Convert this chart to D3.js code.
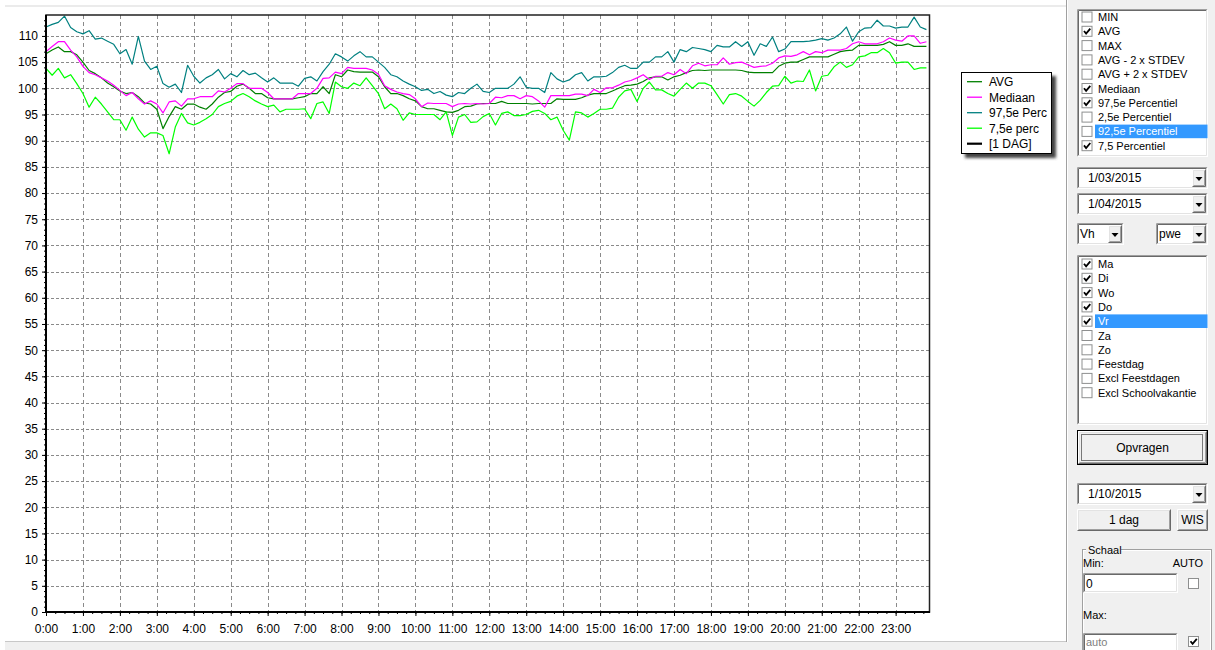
<!DOCTYPE html>
<html>
<head>
<meta charset="utf-8">
<script src="https://cdn.jsdelivr.net/npm/d3@7"></script>
<style>
body { margin:0; background:#fff; overflow:hidden; }
svg { display:block; font-family:"Liberation Sans", Arial, sans-serif; }
</style>
</head>
<body>
<script>
// ---- data: one value every 10 minutes, 0:00 .. 23:50 ----
var avg = [
 106.6,107.3,107.9,107.0,107.0,106.4, 105.0,103.4,102.8,102.0,101.0,100.3,
 99.5,99.0,99.2,98.4,97.2,97.0, 96.0,92.3,94.6,96.5,96.0,97.0,
 97.0,96.4,96.0,97.0,98.3,99.2, 99.4,100.4,100.8,100.0,99.0,99.0,
 98.2,98.0,98.0,98.0,98.0,98.2, 98.4,99.0,99.0,100.3,99.0,102.6,
 102.2,103.5,103.2,103.1,103.1,103.1, 102.2,100.3,99.0,99.0,98.6,98.0,
 97.6,96.5,96.1,96.1,95.8,95.5, 95.4,95.8,96.5,96.6,97.0,97.1,
 97.1,97.1,97.5,97.1,97.1,97.1, 97.1,97.0,97.1,97.1,97.1,98.0,
 97.9,97.9,97.9,98.2,98.7,99.0, 99.0,99.0,99.5,100.0,100.5,100.6,
 100.8,101.3,102.0,102.2,102.2,101.6, 102.2,102.5,103.0,103.4,103.5,103.4,
 103.5,103.5,103.5,103.5,103.5,103.4, 103.1,103.0,103.0,103.0,103.0,104.2,
 104.8,105.0,105.0,105.5,106.0,106.0, 106.0,106.0,106.5,107.0,107.2,107.3,
 108.2,108.2,108.2,108.2,108.4,108.9, 108.2,108.2,108.5,108.0,108.0,108.0
];
var mediaan = [
 107.0,108.0,108.9,108.9,107.3,106.0, 104.2,103.0,102.6,102.0,101.4,100.6,
 99.6,98.6,99.2,98.0,97.0,97.6, 97.0,95.3,97.4,97.6,96.6,98.0,
 98.0,98.4,98.4,98.4,99.5,99.3, 100.0,100.9,100.9,100.0,100.0,100.0,
 99.2,98.0,98.0,98.0,98.0,99.0, 99.0,99.0,100.0,101.9,102.0,103.1,
 102.8,104.0,103.8,103.8,103.8,103.5, 102.7,100.5,99.8,99.3,99.0,98.8,
 98.0,96.5,97.2,97.1,97.1,97.1, 96.5,97.0,97.1,97.0,97.1,97.0,
 97.1,98.3,98.2,98.6,98.6,98.0, 98.6,98.4,97.6,96.4,98.6,98.6,
 98.6,98.6,98.9,98.9,98.6,99.8, 99.2,100.1,100.1,100.6,101.2,101.5,
 102.0,102.6,101.7,102.3,102.3,103.0, 102.6,103.6,102.8,104.3,104.8,104.3,
 104.5,104.5,105.8,104.6,104.9,105.0, 104.5,104.0,104.2,104.3,104.8,105.8,
 106.2,106.1,106.4,107.0,106.4,107.0, 106.8,107.3,107.3,107.3,107.6,108.5,
 108.9,108.5,108.5,108.5,108.9,109.6, 109.2,109.0,110.0,110.0,108.6,108.9
];
var perc975 = [
 111.7,112.2,112.6,113.8,111.6,110.8, 110.4,111.0,109.4,109.6,109.0,108.4,
 106.6,107.4,104.6,109.9,105.2,103.6, 104.2,100.9,100.2,100.8,99.2,104.4,
 102.3,101.0,102.0,102.6,103.6,101.8, 102.8,102.2,103.4,102.6,102.9,102.0,
 101.2,102.0,101.0,101.0,101.0,100.4, 101.9,102.2,101.4,103.2,104.6,106.6,
 106.0,105.2,106.2,107.0,106.0,106.0, 105.0,104.0,102.6,102.2,101.4,100.8,
 100.3,99.6,99.8,99.0,99.4,98.7, 98.4,99.2,99.0,100.0,100.8,99.4,
 99.2,100.0,100.0,100.0,100.8,102.2, 100.2,100.0,100.0,99.2,103.0,101.8,
 101.2,101.6,102.6,103.0,101.4,102.2, 102.2,102.3,103.0,104.0,104.4,103.8,
 103.8,105.0,105.0,106.0,106.0,107.0, 105.0,107.4,107.0,107.8,107.6,107.4,
 107.0,108.2,107.9,107.9,108.9,108.0, 108.9,106.3,108.5,108.0,109.8,107.0,
 107.5,108.9,108.9,108.9,109.0,109.2, 109.5,109.2,109.6,110.4,111.7,109.0,
 110.8,111.5,111.6,113.0,111.9,111.9, 111.5,111.7,111.7,113.6,111.7,111.2
];
var perc75 = [
 103.8,102.5,103.8,102.0,102.6,100.9, 99.0,96.4,98.3,97.0,95.5,94.0,
 94.0,92.0,94.5,92.2,90.7,91.5, 91.5,91.0,87.5,92.6,95.2,93.4,
 93.0,93.5,94.2,95.0,96.5,97.1, 97.5,98.5,99.0,98.4,97.6,97.0,
 96.5,96.8,95.5,96.0,96.0,96.0, 96.1,94.2,97.1,97.4,95.2,101.2,
 100.3,100.0,101.0,100.5,102.0,100.5, 99.0,96.1,97.0,96.1,93.9,95.3,
 95.0,95.0,95.0,95.0,94.0,95.5, 91.0,94.5,95.0,93.5,93.6,94.6,
 95.2,93.0,95.2,95.5,94.8,94.8, 95.0,95.6,95.8,95.2,94.0,94.5,
 92.0,90.1,95.5,95.3,94.5,95.2, 96.0,96.0,96.2,98.3,99.5,99.8,
 97.5,100.0,101.2,99.7,99.7,99.0, 98.5,99.8,101.0,100.0,101.0,101.0,
 100.5,98.8,97.0,98.8,99.0,98.5, 97.5,96.6,97.7,99.2,100.4,100.5,
 102.3,101.0,101.4,101.3,103.5,99.5, 102.3,102.5,104.1,105.0,104.0,104.5,
 106.0,106.2,106.8,106.8,107.6,106.8, 104.8,105.0,105.0,103.6,103.9,103.9
];
var minutes = d3.range(0, 1440, 10);

var hourLabels = ["0:00","1:00","2:00","3:00","4:00","5:00","6:00","7:00","8:00","9:00","10:00","11:00",
  "12:00","13:00","14:00","15:00","16:00","17:00","18:00","19:00","20:00","21:00","22:00","23:00"];
var yTicks = [0,5,10,15,20,25,30,35,40,45,50,55,60,65,70,75,80,85,90,95,100,105,110];

var legendNames = ["AVG", "Mediaan", "97,5e Perc", "7,5e perc", "[1 DAG]"];
var legendColors = ["#008000", "#ff00ff", "#008080", "#00ff00", "#000000"];

var statItems = ["MIN","AVG","MAX","AVG - 2 x STDEV","AVG + 2 x STDEV","Mediaan","97,5e Percentiel","2,5e Percentiel","92,5e Percentiel","7,5 Percentiel"];
var statChecked = [false,true,false,false,false,true,true,false,false,true];
var dayItems = ["Ma","Di","Wo","Do","Vr","Za","Zo","Feestdag","Excl Feestdagen","Excl Schoolvakantie"];
var dayChecked = [true,true,true,true,true,false,false,false,false,false];

var ancho = 1215, alto = 650;

var svg = d3.select("body").append("svg")
  .attr("width", ancho).attr("height", alto);

// shadow filter for legend
var defs = svg.append("defs");
defs.append("filter").attr("id","blur").attr("x","-20%").attr("y","-20%").attr("width","140%").attr("height","140%")
  .append("feGaussianBlur").attr("stdDeviation", 1.5);

// ---- chart frame / background ----
svg.append("rect").attr("x",0).attr("y",0).attr("width",ancho).attr("height",alto).attr("fill","#fff");
svg.append("rect").attr("x",5).attr("y",5).attr("width",1061).attr("height",2).attr("fill","#ebebeb");
svg.append("rect").attr("x",5).attr("y",641).attr("width",1062).attr("height",9).attr("fill","#f0f0f0");
svg.append("line").attr("x1",5).attr("x2",1067).attr("y1",641.5).attr("y2",641.5).attr("stroke","#c8c8c8");

// escalas
var x = d3.scaleLinear().domain([0, 1435]).range([46, 929.5]);
var y = d3.scaleLinear().domain([0, 114]).range([612, 15]);

var plot = svg.append("g");

// grid
plot.selectAll("line.hg").data(yTicks.filter(function(d){ return d > 0; }))
  .enter().append("line").attr("class","hg")
  .attr("x1", x(0)).attr("x2", x(1435))
  .attr("y1", function(d){ return Math.round(y(d)) + 0.5; })
  .attr("y2", function(d){ return Math.round(y(d)) + 0.5; })
  .attr("stroke","#8a8a8a").attr("stroke-dasharray","3,2");
plot.selectAll("line.vg").data(d3.range(1, 24))
  .enter().append("line").attr("class","vg")
  .attr("x1", function(d){ return Math.round(x(d*60)) + 0.5; })
  .attr("x2", function(d){ return Math.round(x(d*60)) + 0.5; })
  .attr("y1", y(114)).attr("y2", y(0))
  .attr("stroke","#8a8a8a").attr("stroke-dasharray","4,3");

// axes
var yAxis = d3.axisLeft(y).tickValues(yTicks).tickSize(4).tickPadding(4);
var yMinor = d3.axisLeft(y).tickValues(d3.range(0, 114, 1)).tickSize(2).tickFormat("");
var xAxis = d3.axisBottom(x).tickValues(d3.range(0, 24).map(function(h){ return h*60; }))
  .tickSize(4).tickPadding(8).tickFormat(function(d, i){ return hourLabels[i]; });
var xMinor = d3.axisBottom(x).tickValues(d3.range(0, 1440, 15)).tickSize(2).tickFormat("");

function styleAxis(g) {
  g.select(".domain").remove();
  g.selectAll("line").attr("stroke","#000");
  g.selectAll("text").attr("fill","#000").style("font-size","12px")
   .style("font-family","'Liberation Sans', Arial, sans-serif");
}
plot.append("g").attr("transform","translate(46,0)").call(yMinor).call(styleAxis);
plot.append("g").attr("transform","translate(46,0)").call(yAxis).call(styleAxis);
plot.append("g").attr("transform","translate(0,612)").call(xMinor).call(styleAxis);
plot.append("g").attr("transform","translate(0,612)").call(xAxis).call(styleAxis);

// series
var series = [
  {values: avg, color: legendColors[0]},
  {values: mediaan, color: legendColors[1]},
  {values: perc975, color: legendColors[2]},
  {values: perc75, color: legendColors[3]}
];
var linea = d3.line()
  .x(function(d, i){ return x(minutes[i]); })
  .y(function(d){ return y(d); });
plot.selectAll("path.serie").data(series).enter().append("path")
  .attr("class","serie")
  .attr("d", function(s){ return linea(s.values); })
  .attr("fill","none")
  .attr("stroke", function(s){ return s.color; })
  .attr("stroke-width", 1.2)
  .attr("stroke-linejoin","round");

// frame
plot.append("rect").attr("x",46).attr("y",15).attr("width",929.5-46).attr("height",612-15)
  .attr("fill","none").attr("stroke","#222").attr("stroke-width",1.5);
plot.append("path").attr("d","M46,15 V612 H930").attr("fill","none").attr("stroke","#000").attr("stroke-width",2);

// legend
var lg = svg.append("g");
lg.append("rect").attr("x",965).attr("y",76).attr("width",91).attr("height",82).attr("fill","#444").attr("filter","url(#blur)");
lg.append("rect").attr("x",961.5).attr("y",72.5).attr("width",90).attr("height",81).attr("fill","#fff").attr("stroke","#000");
var li = lg.selectAll("g.item").data(legendNames).enter().append("g")
  .attr("transform", function(d, i){ return "translate(0," + (81.7 + i*15.5) + ")"; });
li.append("line").attr("x1",967).attr("x2",982).attr("y1",0).attr("y2",0)
  .attr("stroke", function(d, i){ return legendColors[i]; })
  .attr("stroke-width", function(d, i){ return i === 4 ? 2.2 : 1.3; });
li.append("text").attr("x",989).attr("y",4.3).text(function(d){ return d; })
  .style("font-size","12px").attr("fill","#000");

// ---- right control panel ----
var p = svg.append("g");
p.append("rect").attr("x",1067).attr("y",0).attr("width",148).attr("height",alto).attr("fill","#f0f0f0");
p.append("line").attr("x1",1066.5).attr("x2",1066.5).attr("y1",0).attr("y2",642).attr("stroke","#a0a0a0");
p.append("line").attr("x1",1067.5).attr("x2",1067.5).attr("y1",0).attr("y2",642).attr("stroke","#ffffff");

function edge(g, x0, y0, w, h, tl, br) {
  g.append("path").attr("d","M"+(x0+0.5)+","+(y0+h-0.5)+" V"+(y0+0.5)+" H"+(x0+w-0.5))
    .attr("fill","none").attr("stroke",tl);
  g.append("path").attr("d","M"+(x0+0.5)+","+(y0+h-0.5)+" H"+(x0+w-0.5)+" V"+(y0+0.5))
    .attr("fill","none").attr("stroke",br);
}
function sunken(g, x0, y0, w, h) {
  g.append("rect").attr("x",x0).attr("y",y0).attr("width",w).attr("height",h).attr("fill","#fff");
  edge(g, x0, y0, w, h, "#a0a0a0", "#ffffff");
  edge(g, x0+1, y0+1, w-2, h-2, "#696969", "#e3e3e3");
}
function raised(g, x0, y0, w, h) {
  g.append("rect").attr("x",x0).attr("y",y0).attr("width",w).attr("height",h).attr("fill","#f0f0f0");
  edge(g, x0, y0, w, h, "#ffffff", "#696969");
  edge(g, x0+1, y0+1, w-2, h-2, "#e3e3e3", "#a0a0a0");
}
function txt(g, x0, y0, s, size, color, anchor) {
  return g.append("text").attr("x",x0).attr("y",y0).text(s)
    .style("font-size", size + "px").attr("fill", color || "#000")
    .attr("text-anchor", anchor || "start");
}
function checkbox(g, x0, y0, on) {
  g.append("rect").attr("x",x0+0.5).attr("y",y0+0.5).attr("width",10).attr("height",10)
    .attr("fill","#fff").attr("stroke","#8e8f8f");
  if (on) g.append("path").attr("d","M"+(x0+2.5)+","+(y0+5.2)+" L"+(x0+4.6)+","+(y0+7.8)+" L"+(x0+8.8)+","+(y0+2.8))
    .attr("fill","none").attr("stroke","#000").attr("stroke-width",1.8);
}
function combo(g, x0, y0, w, s) {
  sunken(g, x0, y0, w, 22);
  raised(g, x0 + w - 16, y0 + 2, 14, 18);
  var cx = x0 + w - 9, cy = y0 + 10;
  g.append("path").attr("d","M"+(cx-3.5)+","+cy+" h7 l-3.5,4 z").attr("fill","#000");
  return g;
}
function listbox(g, x0, y0, w, h, items, checked, sel, top) {
  sunken(g, x0, y0, w, h);
  items.forEach(function(s, i){
    var cy = top + i*14.3;
    if (i === sel) g.append("rect").attr("x",1095).attr("y",cy-6.8).attr("width",112.5).attr("height",13.6).attr("fill","#3399ff");
    checkbox(g, 1081.5, cy-5.5, checked[i]);
    txt(g, 1098, cy+4, s, 11, i === sel ? "#fff" : "#000");
  });
}

listbox(p, 1077, 9, 131, 148, statItems, statChecked, 8, 17);

combo(p, 1077, 167, 131);
txt(p, 1088, 182, "1/03/2015", 12);
combo(p, 1077, 193, 131);
txt(p, 1088, 208, "1/04/2015", 12);
combo(p, 1077, 223, 47);
txt(p, 1080, 238, "Vh", 12);
combo(p, 1156, 223, 52);
txt(p, 1159, 238, "pwe", 12);

listbox(p, 1077, 255, 131, 170, dayItems, dayChecked, 4, 264);

// Opvragen button
p.append("rect").attr("x",1077.5).attr("y",430.5).attr("width",130).attr("height",34).attr("fill","none").attr("stroke","#000");
raised(p, 1078, 431, 129, 33);
p.append("rect").attr("x",1081.5).attr("y",434.5).attr("width",121).attr("height",26)
  .attr("fill","none").attr("stroke","#000").attr("stroke-dasharray","1,1");
txt(p, 1142.5, 452, "Opvragen", 12, "#000", "middle");

combo(p, 1077, 483, 131);
txt(p, 1088, 498, "1/10/2015", 12);

raised(p, 1077, 509, 94, 22);
txt(p, 1124, 524, "1 dag", 12, "#000", "middle");
raised(p, 1177, 509, 31, 22);
txt(p, 1192.5, 524, "WIS", 12, "#000", "middle");

// Schaal group
p.append("rect").attr("x",1082.5).attr("y",549.5).attr("width",129).attr("height",120).attr("fill","none").attr("stroke","#a0a0a0");
p.append("rect").attr("x",1083.5).attr("y",550.5).attr("width",127).attr("height",118).attr("fill","none").attr("stroke","#fff");
p.append("rect").attr("x",1086).attr("y",545).attr("width",35).attr("height",10).attr("fill","#f0f0f0");
txt(p, 1088, 554, "Schaal", 11);
txt(p, 1083, 567, "Min:", 11);
txt(p, 1203, 567, "AUTO", 11, "#000", "end");
sunken(p, 1083, 573, 95, 20);
txt(p, 1086, 588, "0", 12);
checkbox(p, 1188, 578, false);
txt(p, 1083, 619, "Max:", 11);
sunken(p, 1083, 633, 95, 20);
txt(p, 1086, 646, "auto", 11, "#808080");
checkbox(p, 1188, 636, true);
</script>
</body>
</html>
